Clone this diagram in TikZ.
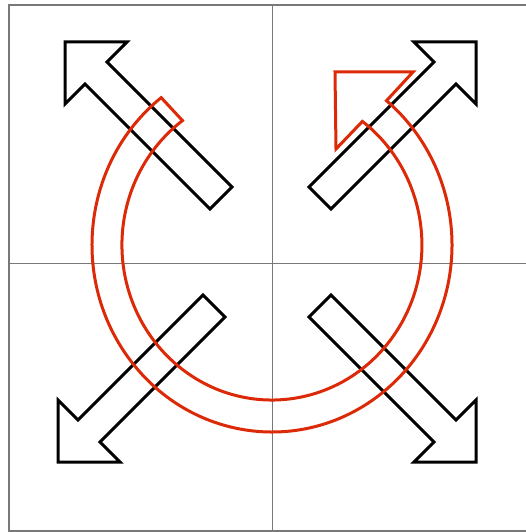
\documentclass[tikz,border=0pt]{standalone}
\usepackage{tikz}

\definecolor{ringred}{RGB}{220,42,8}
\definecolor{gridgray}{RGB}{120,120,120}

\tikzset{
	gridline/.style={draw=gridgray, line width=1.2pt},
	arrowline/.style={draw=black, line width=3pt},
	ringline/.style={draw=ringred, line width=3pt},
}

% one outline arrow, tip corner at the origin
\newcommand{\bigarrow}{\draw[arrowline] (0,0) -- (62,0) -- (42,20) -- (167,145) -- (145,167) -- (20,42) -- (0,62) -- cycle;}

\begin{document}
\begin{tikzpicture}[x=1pt, y=-1pt]
		\useasboundingbox (0,0) rectangle (526,532);
		\clip (0,0) rectangle (526,532);

		% frame and the cross through it
		\draw[gridline] (9,5) rectangle (536,531);
		\draw[gridline] (272.5,5) -- (272.5,531);
		\draw[gridline] (9,263.3) -- (536,263.3);

		% the same arrow, flipped into each corner
		\begin{scope}[shift={(65,42)}]
			\bigarrow
		\end{scope}

		\begin{scope}[shift={(476,42)}, xscale=-1]
			\bigarrow
		\end{scope}

		\begin{scope}[shift={(58,462)}, yscale=-1]
			\bigarrow
		\end{scope}

		\begin{scope}[shift={(476,462)}, xscale=-1, yscale=-1]
			\bigarrow
		\end{scope}

		% circular arrow round the middle
		\coordinate (ringc) at (272,245);
		\draw[ringline] (ringc) ++(232:180 and 187)
			arc[start angle=232, end angle=-50.5, x radius=180, y radius=187]
			-- (413,72) -- (335,72) -- (336,149) -- (362.4,121.4)
			arc[start angle=-52.9, end angle=233.4, x radius=150, y radius=155]
			-- cycle;

	\end{tikzpicture}
\end{document}
